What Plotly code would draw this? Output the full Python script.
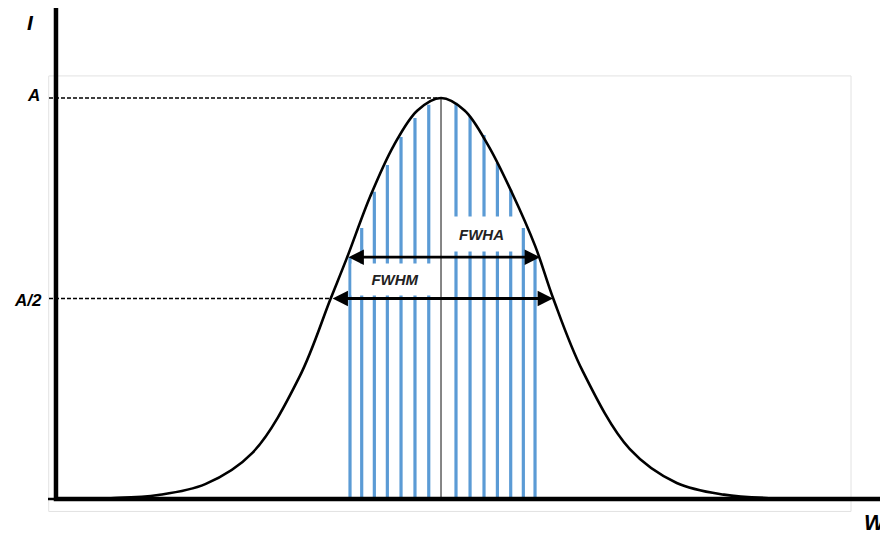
import plotly.graph_objects as go

# ---- data (W in peak-width units, I relative to peak height A) ----
curve_w = [-4.17, -3.5, -3.0, -2.5, -2.0, -1.5, -1.17, -1.0, -0.75, -0.5, -0.25, 0.0,
           0.25, 0.5, 0.75, 1.0, 1.19, 1.5, 2.0, 2.5, 3.0, 3.5, 4.74]
curve_i = [0.0, 0.002, 0.010, 0.037, 0.115, 0.305, 0.5, 0.60, 0.755, 0.882, 0.969, 1.0,
           0.969, 0.882, 0.765, 0.63, 0.5, 0.32, 0.125, 0.040, 0.011, 0.002, 0.0]

bar_w = [-0.965, -0.841, -0.707, -0.569, -0.424, -0.276, -0.130,
         0.159, 0.308, 0.456, 0.598, 0.739, 0.873, 0.997]
bar_i = [0.603, 0.676, 0.766, 0.833, 0.903, 0.950, 0.983,
         0.988, 0.953, 0.908, 0.838, 0.771, 0.676, 0.603]

peak_w = 0.0
peak_a = 1.0
half_a = 0.5
fwhm_left, fwhm_right = -1.166, 1.188
fwha_left, fwha_right, fwha_level = -0.997, 1.05, 0.603

axis_w = -4.083
w_range = [-4.1676, 4.740]
i_range = [-0.0324, 1.2244]

tick_labels = {"I": "I", "A": "A", "A2": "A/2", "W": "W"}

# ---- figure ----
fig = go.Figure()

# blue sampling lines
bx, by = [], []
for w, i in zip(bar_w, bar_i):
    bx += [w, w, None]
    by += [0, i, None]
fig.add_trace(go.Scatter(x=bx, y=by, mode="lines",
                         line=dict(color="#5B9BD5", width=3.2), hoverinfo="skip"))

# centre line
fig.add_trace(go.Scatter(x=[peak_w, peak_w], y=[0, peak_a], mode="lines",
                         line=dict(color="#444444", width=1.3), hoverinfo="skip"))

# gaussian curve
fig.add_trace(go.Scatter(x=curve_w, y=curve_i, mode="lines",
                         line=dict(color="black", width=2.6, shape="spline", smoothing=1.0),
                         hoverinfo="skip"))

# dashed guide lines
dash_start = -4.157
fig.add_trace(go.Scatter(x=[dash_start, peak_w, None, dash_start, fwhm_left],
                         y=[peak_a, peak_a, None, half_a, half_a], mode="lines",
                         line=dict(color="black", width=1.3, dash="4px,2px"),
                         hoverinfo="skip"))

# axes
fig.add_trace(go.Scatter(x=[axis_w, axis_w, w_range[1]], y=[i_range[1], 0, 0],
                         mode="lines", line=dict(color="black", width=4.5),
                         hoverinfo="skip"))

annotations = []
# white label boxes
annotations.append(dict(x=0.430, y=0.661, xref="x", yref="y", showarrow=False,
                        text="<b><i>FWHA</i></b>", bgcolor="white", width=73, height=34,
                        borderpad=0, font=dict(family="Liberation Sans", size=15, color="#222")))
annotations.append(dict(x=-0.493, y=0.547, xref="x", yref="y", showarrow=False,
                        text="<b><i>FWHM</i></b>", bgcolor="white", width=86, height=31,
                        borderpad=0, font=dict(family="Liberation Sans", size=15, color="#222")))
# double arrows
for (l, r, lev) in [(fwha_left, fwha_right, fwha_level), (fwhm_left, fwhm_right, half_a)]:
    annotations.append(dict(x=r, y=lev, ax=l, ay=lev, xref="x", yref="y",
                            axref="x", ayref="y", text="", showarrow=True,
                            arrowhead=2, startarrowhead=2, arrowside="end+start",
                            arrowsize=1.1, startarrowsize=1.1, arrowwidth=2.8,
                            arrowcolor="black", standoff=0, startstandoff=0))
# axis labels (paper coordinates, outside the plot area)
lab_font = dict(family="Liberation Sans", color="black")
for key, px_, py_, size in [("I", -0.0214, 0.9722, 21), ("A", -0.0167, 0.8254, 17),
                            ("A2", -0.0244, 0.4187, 17), ("W", 0.9857, -0.0218, 22)]:
    annotations.append(dict(x=px_, y=py_, xref="paper", yref="paper", showarrow=False,
                            xanchor="center", yanchor="middle",
                            text="<b><i>" + tick_labels[key] + "</i></b>",
                            font=dict(size=size, **lab_font)))

shapes = [dict(type="rect", xref="x", yref="y", x0=-4.16, x1=4.348, y0=-0.031, y1=1.055,
               line=dict(color="#e2e2e2", width=1), layer="below")]

fig.update_layout(
    width=880, height=529,
    margin=dict(l=40, r=0, t=0, b=25),
    paper_bgcolor="white", plot_bgcolor="white",
    showlegend=False,
    xaxis=dict(range=w_range, visible=False, fixedrange=True),
    yaxis=dict(range=i_range, visible=False, fixedrange=True),
    annotations=annotations,
    shapes=shapes,
)

fig.write_html("out.html")
